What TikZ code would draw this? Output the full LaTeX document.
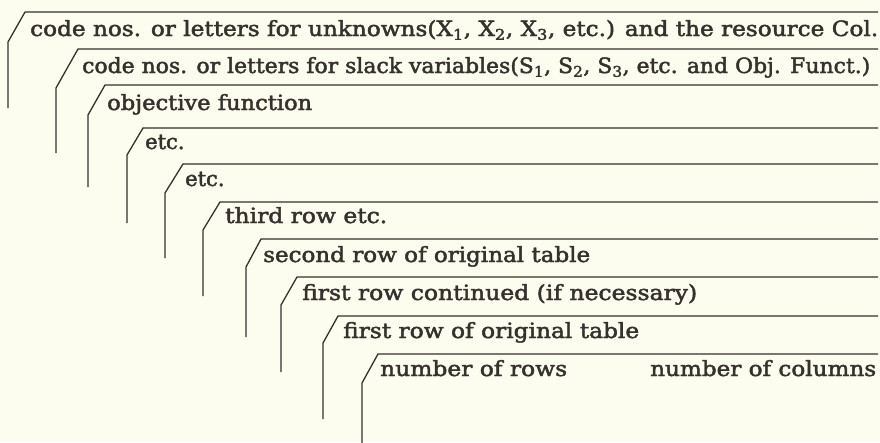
\documentclass[tikz,border=0pt]{standalone}
\usepackage{fontspec}
\newfontfamily\cardfont{DejaVu Serif}[FakeBold=2]
\usepackage{graphicx}
\definecolor{ink}{HTML}{35312D}
\definecolor{paper}{HTML}{FCFCEF}
\tikzset{
  card/.style={draw=ink, line width=1.3pt, line join=miter},
  lbl/.style={anchor=base west, inner sep=0pt, text=ink, font=\cardfont\fontsize{21}{25}\selectfont}
}
\newcommand{\fitto}[2]{\resizebox{#1}{\height}{#2}}
\begin{document}
\begin{tikzpicture}[x=1pt,y=-1pt]
\fill[paper] (0,0) rectangle (880,442);
\useasboundingbox (0,0) rectangle (880,442);
% cards: number / left x / slant bottom y / slant top x / top y / bottom y
\foreach \n/\L/\B/\Tx/\Ty/\E in {
  1/8/42/25/12/108,
  2/56/88/78/49/153,
  3/88/115/105/85/187,
  4/127/155/143/128/223,
  5/165/193/183/164/258,
  6/203/230/220/202/296,
  7/246/267/261/239/337,
  8/281/305/297/277/372,
  9/323/343/338/316/419,
  10/362/383/378/354/443}{
  \coordinate (foot\n) at (\L,\E);
  \coordinate (knee\n) at (\L,\B);
  \coordinate (corner\n) at (\Tx,\Ty);
  \coordinate (end\n) at (878,\Ty);
  \draw[card] (foot\n) -- (knee\n) -- (corner\n) -- (end\n);
}
\node[lbl] (t1) at (30,36) {\fitto{848pt}{code nos. or letters for unknowns(X\textsubscript{1}, X\textsubscript{2}, X\textsubscript{3}, etc.) and the resource Col.}};
\node[lbl] (t2) at (82,73) {\fitto{788pt}{code nos. or letters for slack variables(S\textsubscript{1}, S\textsubscript{2}, S\textsubscript{3}, etc. and Obj. Funct.)}};
\node[lbl] (t3) at (107,110) {\fitto{205pt}{objective function}};
\node[lbl] (t4) at (145,149) {etc.};
\node[lbl] (t5) at (185,186) {etc.};
\node[lbl] (t6) at (225,223) {\fitto{162pt}{third row etc.}};
\node[lbl] (t7) at (263,262) {\fitto{327pt}{second row of original table}};
\node[lbl] (t8) at (302,300) {\fitto{395pt}{first row continued (if necessary)}};
\node[lbl] (t9) at (343,338) {\fitto{296pt}{first row of original table}};
\node[lbl] (t10a) at (380,376) {\fitto{187pt}{number of rows}};
\node[lbl] (t10b) at (650,376) {\fitto{226pt}{number of columns}};
\end{tikzpicture}
\end{document}
